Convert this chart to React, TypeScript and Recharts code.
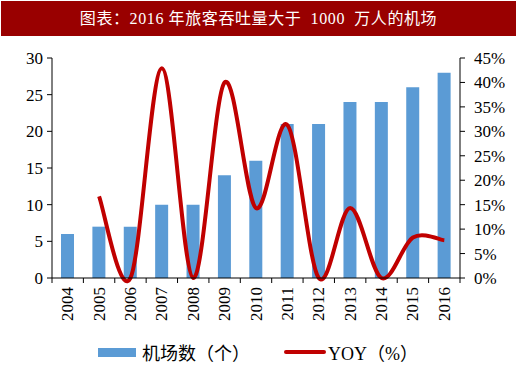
import React from 'react'
import { Bar, ComposedChart, Legend, Line, XAxis, YAxis } from 'recharts'

const years = ['2004', '2005', '2006', '2007', '2008', '2009', '2010', '2011', '2012', '2013', '2014', '2015', '2016']
const airports = [6, 7, 7, 10, 10, 14, 16, 21, 21, 24, 24, 26, 28]
const yoy = [null, 16.7, 0, 42.9, 0, 40, 14.3, 31.3, 0, 14.3, 0, 8.3, 7.7]
const leftTicks = [0, 5, 10, 15, 20, 25, 30]
const rightTicks = [0, 5, 10, 15, 20, 25, 30, 35, 40, 45]

const data = years.map((year, i) => ({ year, airports: airports[i], yoy: yoy[i] }))

const BLUE = '#5B9BD5'
const RED = '#C00000'
const SERIF = '"Liberation Serif", "Times New Roman", "Noto Sans CJK SC", serif'
const CJK = '"Liberation Serif", "Noto Sans CJK SC", serif'

// excel style smoothed line (catmull-rom through the points)
class ExcelCurve {
    _ctx: any
    _pts: number[][] = []
    constructor(ctx: any) { this._ctx = ctx }
    areaStart() {}
    areaEnd() {}
    lineStart() { this._pts = [] }
    point(x: number, y: number) { this._pts.push([+x, +y]) }
    lineEnd() {
        const p = this._pts
        const c = this._ctx
        if (!p.length) return
        c.moveTo(p[0][0], p[0][1])
        for (let i = 0; i < p.length - 1; i++) {
            const p0 = p[i - 1] || p[i]
            const p1 = p[i]
            const p2 = p[i + 1]
            const p3 = p[i + 2] || p2
            c.bezierCurveTo(
                p1[0] + (p2[0] - p0[0]) / 6, p1[1] + (p2[1] - p0[1]) / 6,
                p2[0] - (p3[0] - p1[0]) / 6, p2[1] - (p3[1] - p1[1]) / 6,
                p2[0], p2[1])
        }
    }
}
const curveExcel: any = (ctx: any) => new ExcelCurve(ctx)

const TICK_SIZE = 5
const TICK_MARGIN = 4

const XTick = (props: any) => {
    const { x, y, payload, index } = props
    const off = payload.offset || 15.7
    const y0 = y - TICK_SIZE - TICK_MARGIN
    return (
        <g>
            <line x1={x - off} x2={x - off} y1={y0} y2={y0 + TICK_SIZE} stroke="#000" />
            {index === years.length - 1 && (
                <line x1={x + off} x2={x + off} y1={y0} y2={y0 + TICK_SIZE} stroke="#000" />
            )}
            <text x={x} y={y} transform={`rotate(-90, ${x}, ${y})`} textAnchor="end" dominantBaseline="central"
                fontFamily={SERIF} fontSize={17} fill="#000">
                {payload.value}
            </text>
        </g>
    )
}

const renderLegend = () => (
    <div style={{ display: 'flex', alignItems: 'center', paddingLeft: 98, paddingTop: 11, fontFamily: CJK, fontSize: 18, color: '#000' }}>
        <span style={{ display: 'inline-block', width: 38, height: 9, background: BLUE }} />
        <span style={{ marginLeft: 6 }}>机场数（个）</span>
        <span style={{ display: 'inline-block', width: 42, height: 4, background: RED, borderRadius: 2, marginLeft: 34 }} />
        <span style={{ marginLeft: 2 }}>YOY（%）</span>
    </div>
)

export default function App() {
    return (
        <div style={{ position: 'absolute', left: 0, top: 0, width: 520, height: 380, background: '#fff' }}>
            <div style={{
                position: 'absolute', left: 1, top: 1, width: 515, height: 35, background: '#990000',
                color: '#fff', fontFamily: CJK, fontSize: 16, lineHeight: '35px', textAlign: 'center',
                letterSpacing: 0.6, whiteSpace: 'pre'
            }}>
                图表：2016 年旅客吞吐量大于  1000  万人的机场
            </div>
            <ComposedChart width={520} height={380} data={data} margin={{ top: 58, right: 0, bottom: 0, left: 0 }}>
                <XAxis dataKey="year" height={50} tickLine={false} tickSize={TICK_SIZE} tickMargin={TICK_MARGIN}
                    axisLine={{ stroke: '#000' }} tick={<XTick />} interval={0} />
                <YAxis yAxisId="left" width={52} domain={[0, 30]} ticks={leftTicks} interval={0} axisLine={{ stroke: '#000' }}
                    tickLine={{ stroke: '#000' }} tickSize={5} tickMargin={4}
                    tick={{ fontFamily: SERIF, fontSize: 17, fill: '#000' }} />
                <YAxis yAxisId="right" orientation="right" width={60} domain={[0, 45]} ticks={rightTicks} interval={0}
                    tickFormatter={(v) => `${v}%`} axisLine={{ stroke: '#000' }} tickLine={{ stroke: '#000' }}
                    tickSize={5} tickMargin={9} tick={{ fontFamily: SERIF, fontSize: 17, fill: '#000', textAnchor: 'start' }} />
                <Legend verticalAlign="bottom" height={52} content={renderLegend} />
                <Bar yAxisId="left" dataKey="airports" fill={BLUE} barSize={13} isAnimationActive={false} />
                <Line yAxisId="right" dataKey="yoy" type={curveExcel} stroke={RED} strokeWidth={4}
                    dot={false} activeDot={false} isAnimationActive={false} />
            </ComposedChart>
        </div>
    )
}
